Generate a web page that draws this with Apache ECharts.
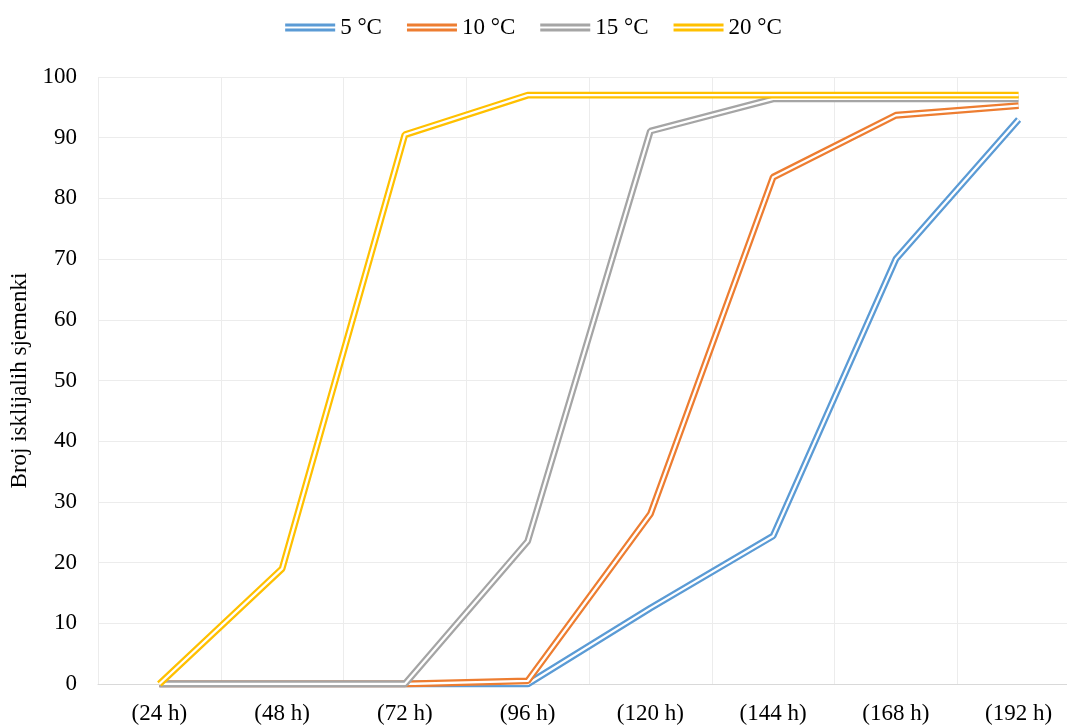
<!DOCTYPE html>
<html>
<head>
<meta charset="utf-8">
<script src="https://cdn.jsdelivr.net/npm/echarts@6/dist/echarts.min.js"></script>
<style>html,body{margin:0;padding:0;background:#fff;}#c{width:1067px;height:725px;}</style>
</head>
<body>
<div id="c"></div>
<script>
var categories = ['(24 h)', '(48 h)', '(72 h)', '(96 h)', '(120 h)', '(144 h)', '(168 h)', '(192 h)'];
var seriesNames = ['5 °C', '10 °C', '15 °C', '20 °C'];
var s5 = [0, 0, 0, 0, 12.5, 24.4, 70, 93];
var s10 = [0, 0, 0, 0.5, 28, 83.5, 93.7, 95.3];
var s15 = [0, 0, 0, 23.5, 91.1, 96.4, 96.4, 96.4];
var s20 = [0, 19, 90.5, 97, 97, 97, 97, 97];
var colors = ['#5B9BD5', '#ED7D31', '#A5A5A5', '#FFC000'];
var yAxisName = 'Broj isklijalih sjemenki';

var allData = [s5, s10, s15, s20];
var font = 'Liberation Serif';
var fs = 23;
var series = [];
allData.forEach(function (d, i) {
  series.push({
    name: seriesNames[i], type: 'line', data: d, showSymbol: false, z: 2 + i * 2,
    lineStyle: { color: colors[i], width: 6.8 }, itemStyle: { color: colors[i] },
    emphasis: { disabled: true }, silent: true
  });
  series.push({
    name: seriesNames[i] + '_w', type: 'line', data: d, showSymbol: false, z: 3 + i * 2,
    lineStyle: { color: '#ffffff', width: 2.3 }, itemStyle: { color: '#ffffff' },
    emphasis: { disabled: true }, silent: true
  });
});

var chart = echarts.init(document.getElementById('c'));
chart.setOption({
  animation: false,
  backgroundColor: '#ffffff',
  legend: {
    data: seriesNames.map(function (n, i) { return { name: n, itemStyle: { color: colors[i] } }; }),
    top: 11, left: 'center',
    icon: 'path://M0,0H50V3H0Z M0,5H50V8H0Z',
    itemWidth: 50, itemHeight: 8, itemGap: 25,
    textStyle: { fontFamily: font, fontSize: fs, color: '#000' },
    selectedMode: false
  },
  grid: { left: 98, top: 77, width: 982, height: 607, containLabel: false, outerBoundsMode: 'none' },
  xAxis: {
    type: 'category', data: categories, boundaryGap: true,
    axisLine: { lineStyle: { color: '#d9d9d9', width: 1 } },
    axisTick: { show: false },
    splitLine: { show: true, lineStyle: { color: '#ececec', width: 1 } },
    axisLabel: { fontFamily: font, fontSize: fs, color: '#000', margin: 18 }
  },
  yAxis: {
    type: 'value', min: 0, max: 100, interval: 10,
    name: yAxisName, nameLocation: 'middle', nameGap: 66, nameRotate: 90,
    nameTextStyle: { fontFamily: font, fontSize: fs, color: '#000' },
    axisLine: { show: false }, axisTick: { show: false },
    splitLine: { lineStyle: { color: '#ececec', width: 1 } },
    axisLabel: { fontFamily: font, fontSize: fs, color: '#000', margin: 21 }
  },
  series: series
});
</script>
</body>
</html>
